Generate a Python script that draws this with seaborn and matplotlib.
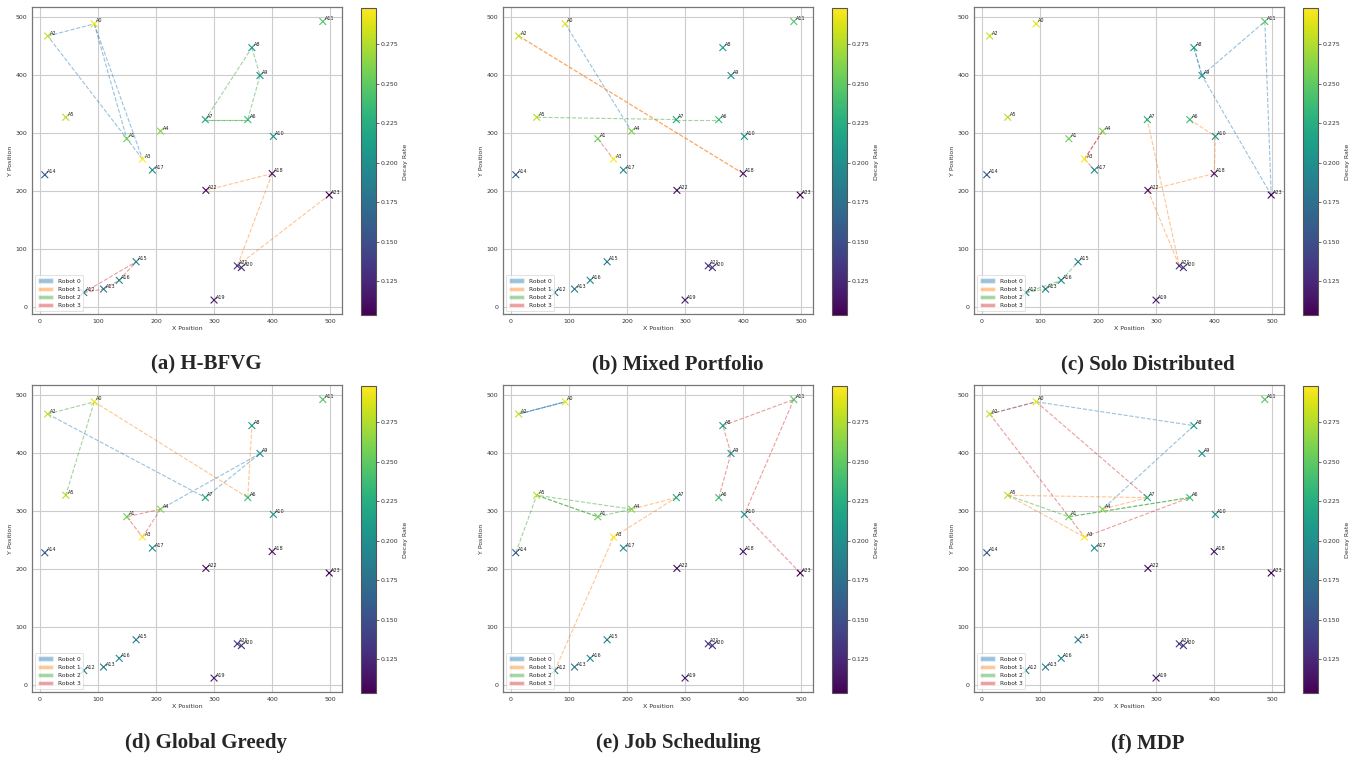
import matplotlib
matplotlib.use("Agg")
import matplotlib.pyplot as plt
import numpy as np
import pandas as pd
import seaborn as sns
from matplotlib.patches import Patch
from matplotlib.colors import Normalize
from matplotlib.cm import ScalarMappable

# ---------------- data ----------------
area_labels = [f"A{i}" for i in range(24)]
x_pos = [94, 150, 14, 177, 208, 45, 358, 285, 365, 379, 402, 487,
         76, 110, 9, 166, 137, 194, 400, 300, 347, 340, 286, 498]
y_pos = [488, 290, 467, 255, 303, 327, 323, 323, 447, 399, 294, 492,
         25, 31, 228, 78, 46, 236, 230, 12, 68, 71, 201, 193]
decay = [0.290, 0.255, 0.280, 0.298, 0.262, 0.276, 0.236, 0.222, 0.210, 0.200, 0.204, 0.246,
         0.186, 0.182, 0.160, 0.186, 0.195, 0.196, 0.115, 0.120, 0.130, 0.134, 0.110, 0.1035]

robot_names = ["Robot 0", "Robot 1", "Robot 2", "Robot 3"]
robot_colors = ["#1f77b4", "#ff7f0e", "#2ca02c", "#d62728"]

captions = ["(a) H-BFVG", "(b) Mixed Portfolio", "(c) Solo Distributed",
            "(d) Global Greedy", "(e) Job Scheduling", "(f) MDP"]

# routes: list of edges (area index pairs) per robot
routes_hbfvg = [[(2, 0), (0, 1), (0, 3), (3, 2)],
                [(22, 18), (18, 21), (21, 23)],
                [(7, 8), (8, 9), (9, 6), (6, 7), (7, 6)],
                [(12, 15), (12, 13), (13, 16), (16, 15)]]
routes_mixed = [[(0, 4)],
                [(2, 18), (18, 2)],
                [(5, 7), (7, 6)],
                [(1, 3)]]
routes_solo = [[(8, 9), (9, 11), (11, 23), (23, 9), (8, 9)],
               [(6, 10), (10, 18), (18, 22), (22, 21), (21, 7)],
               [(12, 13), (13, 16), (16, 15), (12, 16)],
               [(4, 3), (3, 17), (4, 3)]]
routes_greedy = [[(2, 7), (7, 9), (9, 4)],
                 [(0, 6), (6, 8)],
                 [(2, 0), (0, 5)],
                 [(4, 1), (1, 3), (3, 4)]]
routes_job = [[(2, 0), (0, 2), (2, 0)],
              [(12, 3), (3, 7), (7, 4)],
              [(14, 5), (5, 1), (1, 4), (4, 5), (5, 1)],
              [(6, 9), (9, 8), (8, 11), (11, 10), (10, 23)]]
routes_mdp = [[(0, 8), (8, 4), (2, 0)],
              [(5, 7), (7, 4), (5, 3)],
              [(5, 1), (1, 6), (6, 1)],
              [(2, 0), (0, 7), (2, 3), (3, 6)]]
all_routes = [routes_hbfvg, routes_mixed, routes_solo, routes_greedy, routes_job, routes_mdp]

# ---------------- figure ----------------
sns.set_style("white")
plt.rcParams["font.family"] = ["DejaVu Sans"]

W, H = 1357, 759
fig = plt.figure(figsize=(W / 100, H / 100), dpi=100)

def rect(l, t, w, h):
    return [l / W, 1 - (t + h) / H, w / W, h / H]

col_left = [32, 503, 974]
cbar_left = [361, 832, 1303]
row_top = [7, 385]
ax_w, ax_h = 310, 307
cap_x = [206, 678, 1148]
cap_y = [364, 743]

df = pd.DataFrame({"x": x_pos, "y": y_pos, "decay": decay, "label": area_labels})
vmin, vmax = min(decay), max(decay)
norm = Normalize(vmin=vmin, vmax=vmax)

for k in range(6):
    r, c = divmod(k, 3)
    ax = fig.add_axes(rect(col_left[c], row_top[r], ax_w, ax_h))
    cax = fig.add_axes(rect(cbar_left[c], row_top[r] + 1, 15, ax_h))

    ax.grid(True, color="#cccccc", linewidth=0.8, zorder=0)
    ax.set_axisbelow(True)

    for ri, edges in enumerate(all_routes[k]):
        for (a, b) in edges:
            ax.plot([x_pos[a], x_pos[b]], [y_pos[a], y_pos[b]], color=robot_colors[ri],
                    alpha=0.45, linewidth=0.8, linestyle="--", zorder=2)

    sns.scatterplot(data=df, x="x", y="y", hue="decay", palette="viridis",
                    hue_norm=(vmin, vmax), marker="x", s=24, linewidth=0.8,
                    legend=False, ax=ax, zorder=3)
    for i, lab in enumerate(area_labels):
        ax.annotate(lab, (x_pos[i], y_pos[i]), xytext=(1.5, 1.0),
                    textcoords="offset points", fontsize=3.5, color="#222222", zorder=4)

    ax.set_xlim(-13, 520)
    ax.set_ylim(-12, 517)
    ax.set_xticks([0, 100, 200, 300, 400, 500])
    ax.set_yticks([0, 100, 200, 300, 400, 500])
    ax.tick_params(labelsize=4.5, colors="#333333", length=2, width=0.5, pad=1.5)
    ax.set_xlabel("X Position", fontsize=4.5, color="#333333", labelpad=1.5)
    ax.set_ylabel("Y Position", fontsize=4.5, color="#333333", labelpad=2)
    for sp in ax.spines.values():
        sp.set_color("#777777")
        sp.set_linewidth(0.9)

    handles = [Patch(facecolor=robot_colors[i], alpha=0.45, label=robot_names[i]) for i in range(4)]
    leg = ax.legend(handles=handles, loc="lower left", fontsize=4.2, frameon=True,
                    handlelength=2.6, handleheight=0.8, borderpad=0.5, labelspacing=0.5)
    leg.get_frame().set_linewidth(0.5)

    cb = fig.colorbar(ScalarMappable(norm=norm, cmap="viridis"), cax=cax)
    cb.set_ticks([0.125, 0.150, 0.175, 0.200, 0.225, 0.250, 0.275])
    cb.ax.set_yticklabels([f"{v:.3f}" for v in [0.125, 0.150, 0.175, 0.200, 0.225, 0.250, 0.275]])
    cb.ax.tick_params(labelsize=4.5, colors="#333333", length=2, width=0.5, pad=1.5)
    cb.set_label("Decay Rate", fontsize=4.5, color="#333333", labelpad=3)
    cb.outline.set_linewidth(0.8)
    cb.outline.set_edgecolor("#555555")

    fig.text(cap_x[c] / W, 1 - cap_y[r] / H, captions[k], ha="center", va="center",
             fontsize=15, fontweight="bold", family=["Liberation Serif", "DejaVu Serif"])

fig.savefig("out.png", dpi=100)
